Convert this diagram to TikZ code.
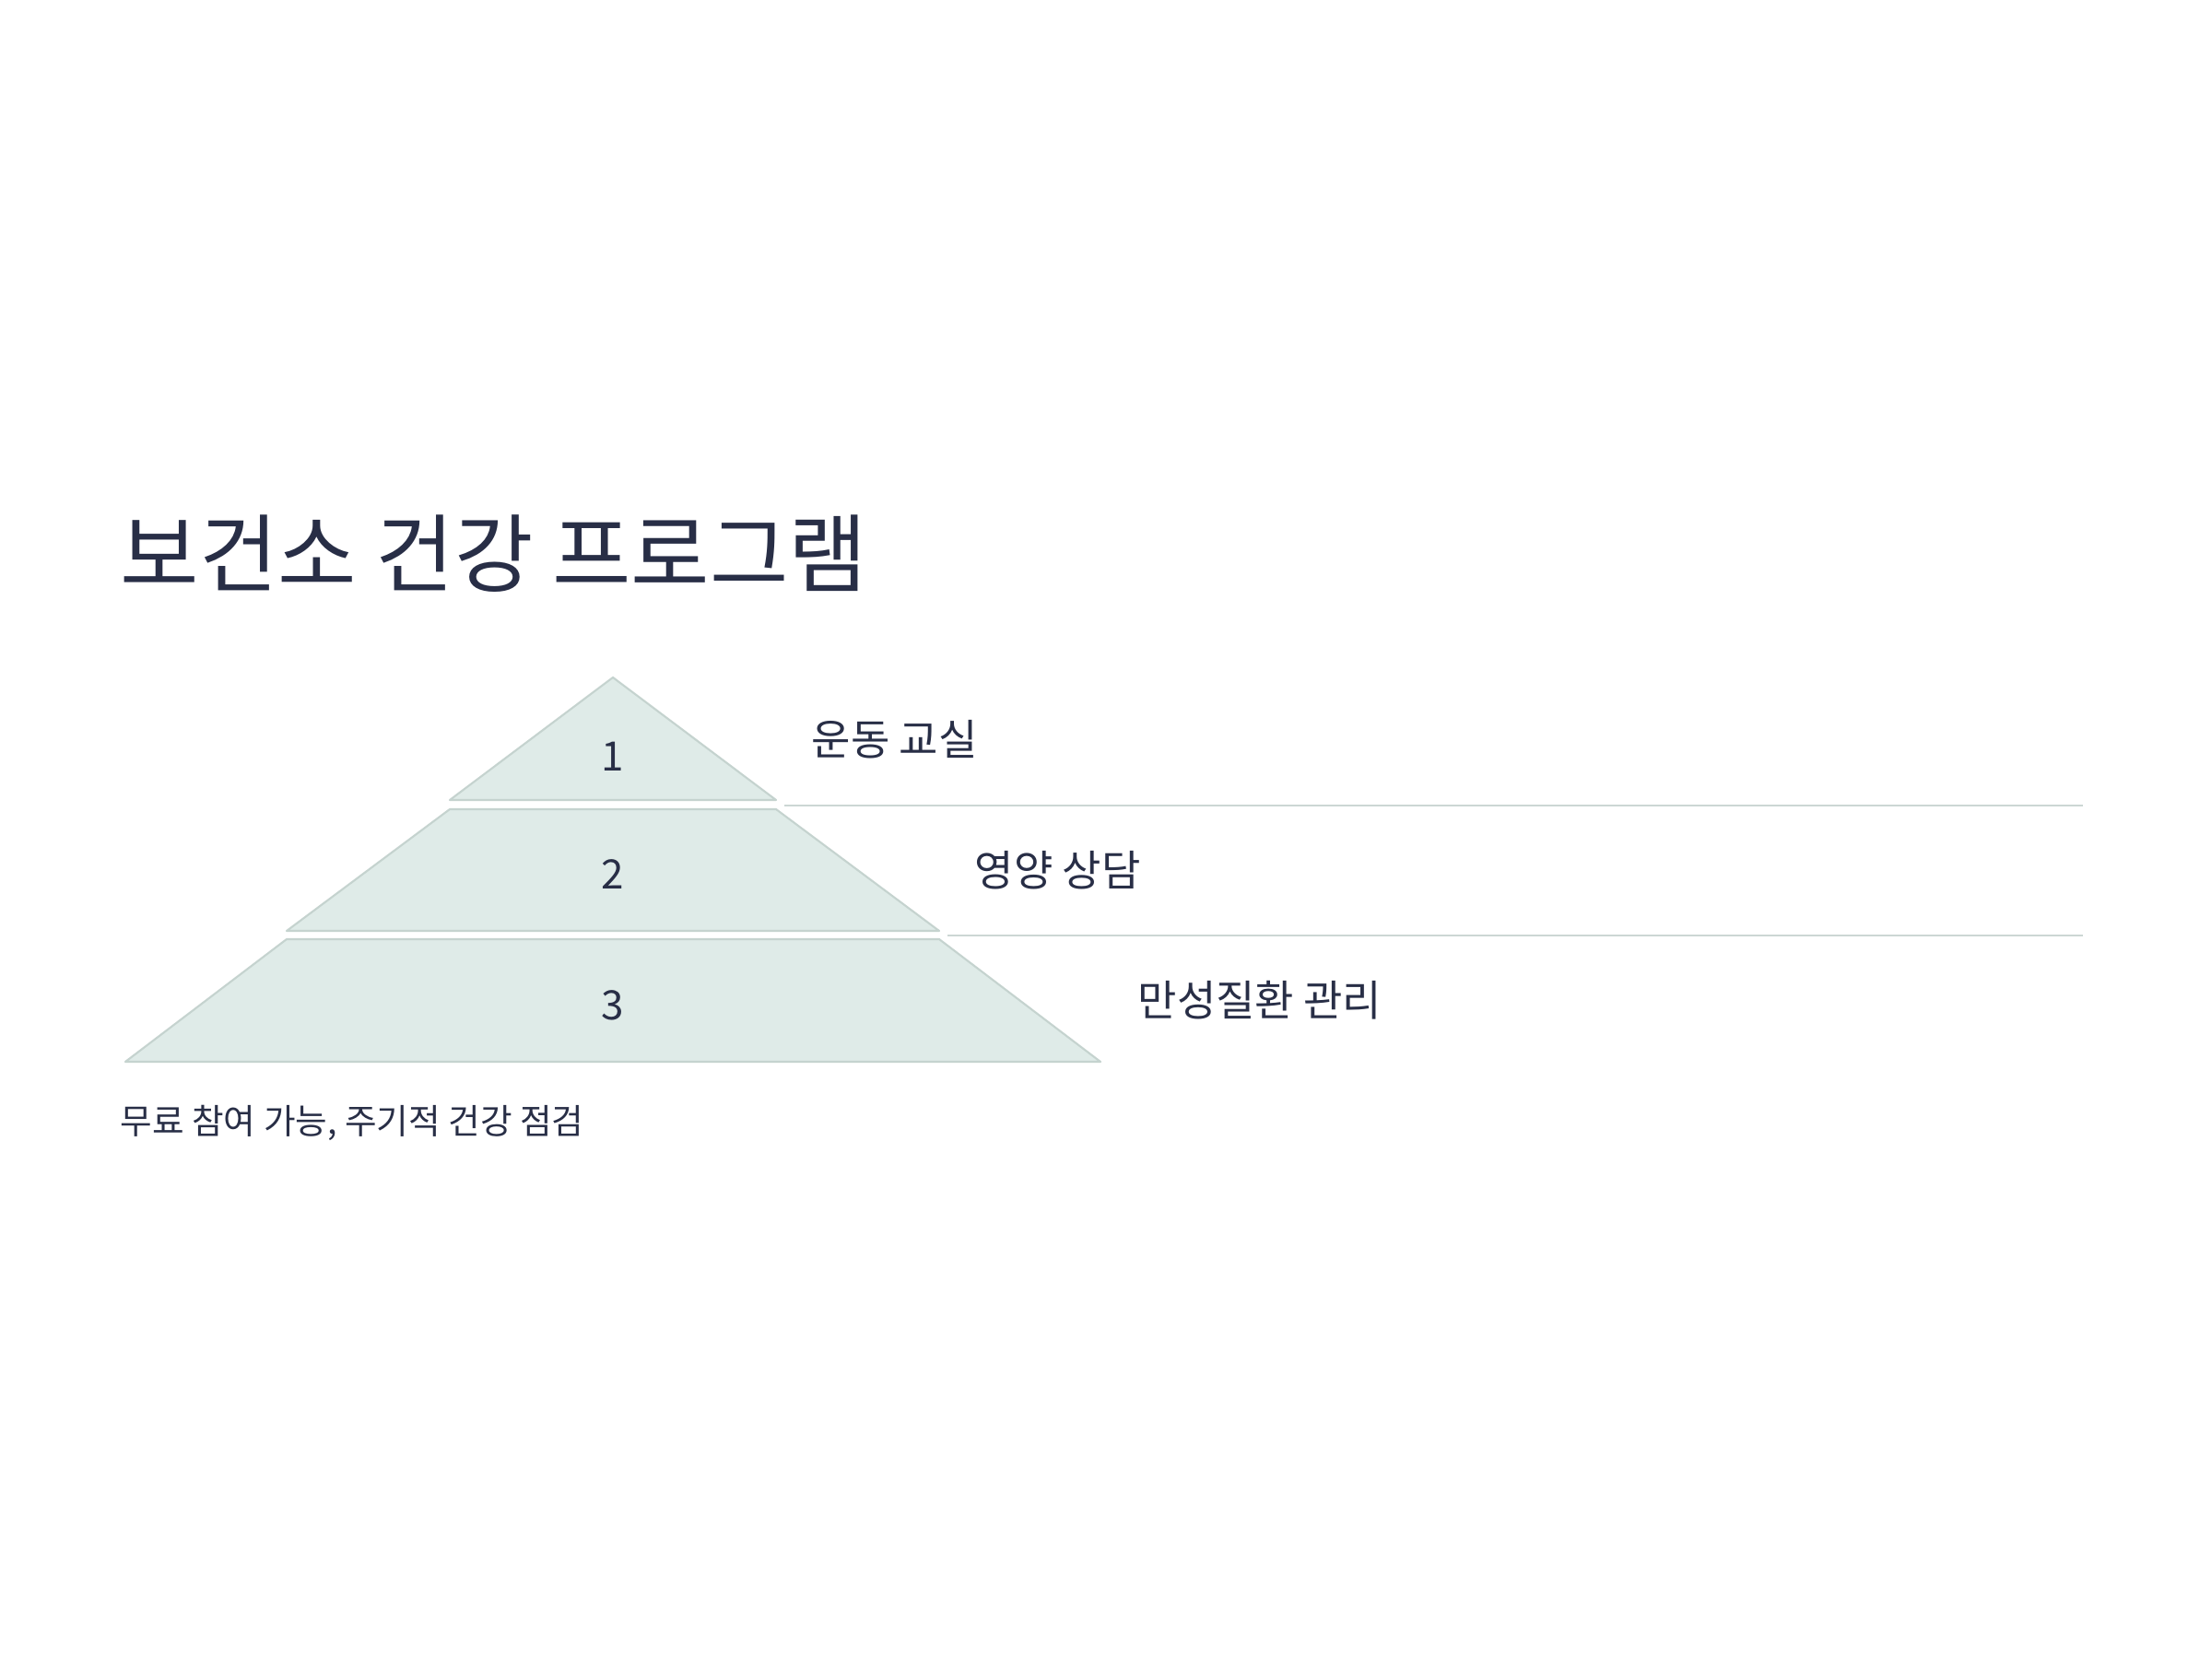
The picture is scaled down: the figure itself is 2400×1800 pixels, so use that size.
\documentclass[tikz,border=0pt]{standalone}
\usepackage{fontspec}
\setmainfont{Noto Sans CJK KR}
\definecolor{ink}{RGB}{40,46,70}
\definecolor{tierfill}{RGB}{223,235,232}
\definecolor{tierline}{RGB}{197,211,207}
\definecolor{ruleline}{RGB}{204,214,212}
\tikzset{
	tier/.style={fill=tierfill,draw=tierline,line width=0.6pt,line join=round},
	tiernum/.style={text=ink,font=\fontsize{12.5}{15}\selectfont},
	tierlabel/.style={text=ink,anchor=west,inner sep=0pt,font=\fontsize{13.1}{16}\selectfont},
	sepline/.style={draw=ruleline,line width=0.6pt}
}
\begin{document}
\begin{tikzpicture}[x=0.01cm,y=-0.01cm]
	\fill[white] (0,0) rectangle (2400,1800);
	\useasboundingbox (0,0) rectangle (2400,1800);
	\node[text=ink,anchor=west,inner sep=0pt,font=\fontsize{26.4}{32}\selectfont] (title) at (130,601) {보건소 건강 프로그램};
	% tiers
	\draw[tier] (665,735) -- (842,868) -- (488,868) -- cycle;
	\draw[tier] (488,878) -- (842,878) -- (1019,1010) -- (311,1010) -- cycle;
	\draw[tier] (311,1019) -- (1019,1019) -- (1194,1152) -- (136,1152) -- cycle;
	\node[tiernum] (num1) at (665,821) {1};
	\node[tiernum] (num2) at (665,949) {2};
	\node[tiernum] (num3) at (665,1091) {3};
	\node[tierlabel] (lab1) at (880,802) {운동 교실};
	\node[tierlabel] (lab2) at (1057,944) {영양 상담};
	\node[tierlabel] (lab3) at (1234,1085) {만성질환 관리};
	\coordinate (sep1a) at (851,874);
	\coordinate (sep1b) at (2260,874);
	\coordinate (sep2a) at (1028,1015);
	\coordinate (sep2b) at (2260,1015);
	\draw[sepline] (sep1a) -- (sep1b);
	\draw[sepline] (sep2a) -- (sep2b);
	\node[text=ink,anchor=west,inner sep=0pt,font=\fontsize{10.7}{13}\selectfont] (note) at (130,1218) {무료 참여 가능, 주기적 건강 점검};
\end{tikzpicture}
\end{document}
